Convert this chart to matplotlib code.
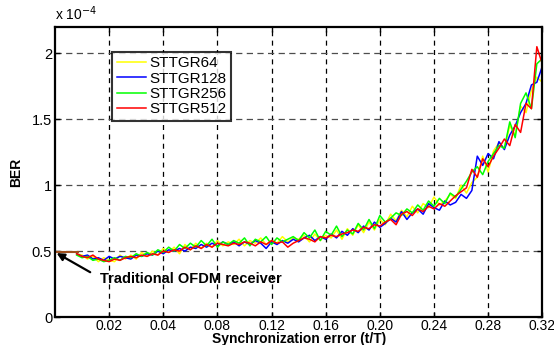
import numpy as np
import matplotlib
matplotlib.use("Agg")
import matplotlib.pyplot as plt

plt.rcParams["font.family"] = ["Liberation Sans", "DejaVu Sans"]

# x positions on the drawn axis (9 equal grid intervals of 0.04)
x_start, x_step, n_pts = 0.016, 0.004, 87
tick_pos = [0.04, 0.08, 0.12, 0.16, 0.20, 0.24, 0.28, 0.32, 0.36]
tick_labels = ["0.02", "0.04", "0.08", "0.12", "0.16", "0.20", "0.24", "0.28", "0.32"]

# BER values, units of 1e-4
ber_64 = [0.48, 0.47, 0.44, 0.46, 0.42, 0.45, 0.43, 0.42, 0.47, 0.44,
          0.47, 0.44, 0.49, 0.46, 0.50, 0.47, 0.52, 0.49, 0.53, 0.48,
          0.55, 0.51, 0.56, 0.52, 0.56, 0.53, 0.58, 0.54, 0.57, 0.55,
          0.59, 0.54, 0.58, 0.56, 0.60, 0.55, 0.58, 0.56, 0.61, 0.57,
          0.60, 0.59, 0.62, 0.57, 0.63, 0.58, 0.62, 0.60, 0.66, 0.59,
          0.67, 0.62, 0.70, 0.64, 0.72, 0.66, 0.74, 0.70, 0.78, 0.73,
          0.81, 0.76, 0.84, 0.79, 0.86, 0.83, 0.91, 0.85, 0.88, 0.93,
          0.90, 1.00, 0.94, 1.02, 1.06, 1.22, 1.10, 1.26, 1.32, 1.28,
          1.45, 1.38, 1.60, 1.55, 1.72, 1.82, 1.78]
ber_128 = [0.48, 0.46, 0.47, 0.44, 0.45, 0.43, 0.46, 0.44, 0.46, 0.45,
           0.44, 0.47, 0.46, 0.48, 0.47, 0.50, 0.48, 0.51, 0.50, 0.52,
           0.50, 0.53, 0.52, 0.55, 0.53, 0.56, 0.54, 0.57, 0.55, 0.57,
           0.54, 0.57, 0.55, 0.58, 0.56, 0.52, 0.57, 0.55, 0.58, 0.56,
           0.59, 0.57, 0.60, 0.62, 0.58, 0.61, 0.59, 0.63, 0.60, 0.65,
           0.62, 0.67, 0.64, 0.69, 0.66, 0.72, 0.68, 0.71, 0.75, 0.72,
           0.80, 0.74, 0.79, 0.82, 0.78, 0.86, 0.83, 0.81, 0.88, 0.85,
           0.87, 0.93, 0.90, 0.96, 1.22, 1.15, 1.24, 1.20, 1.33, 1.27,
           1.38, 1.45, 1.55, 1.62, 1.76, 1.78, 1.90]
ber_256 = [0.47, 0.45, 0.46, 0.43, 0.44, 0.42, 0.43, 0.45, 0.43, 0.46,
           0.45, 0.48, 0.46, 0.49, 0.47, 0.51, 0.49, 0.53, 0.50, 0.55,
           0.52, 0.56, 0.53, 0.58, 0.54, 0.59, 0.53, 0.57, 0.55, 0.58,
           0.56, 0.60, 0.54, 0.59, 0.57, 0.61, 0.55, 0.60, 0.57, 0.59,
           0.61, 0.58, 0.64, 0.60, 0.66, 0.58, 0.65, 0.62, 0.69, 0.61,
           0.66, 0.63, 0.71, 0.66, 0.74, 0.67, 0.77, 0.72, 0.75, 0.79,
           0.77, 0.82, 0.79, 0.85, 0.81, 0.88, 0.84, 0.90, 0.86, 0.94,
           0.91, 0.97, 1.03, 1.10, 1.14, 1.08, 1.18, 1.24, 1.30, 1.28,
           1.48, 1.36, 1.62, 1.70, 1.58, 1.92, 1.96]
ber_512 = [0.48, 0.46, 0.45, 0.47, 0.44, 0.43, 0.42, 0.44, 0.43, 0.45,
           0.46, 0.45, 0.47, 0.46, 0.48, 0.47, 0.50, 0.49, 0.51, 0.50,
           0.53, 0.51, 0.54, 0.52, 0.55, 0.53, 0.56, 0.55, 0.54, 0.56,
           0.55, 0.57, 0.56, 0.54, 0.57, 0.55, 0.58, 0.56, 0.57, 0.53,
           0.56, 0.58, 0.60, 0.59, 0.57, 0.61, 0.60, 0.62, 0.61, 0.63,
           0.64, 0.66, 0.65, 0.68, 0.67, 0.70, 0.69, 0.72, 0.74, 0.70,
           0.78, 0.80, 0.77, 0.82, 0.80, 0.84, 0.82, 0.86, 0.84, 0.88,
           0.92, 0.95, 0.98, 1.12, 1.06, 1.20, 1.14, 1.22, 1.28, 1.35,
           1.30, 1.46, 1.40, 1.62, 1.58, 2.05, 1.92]

series = [("STTGR64", ber_64, "#ffff00"),
          ("STTGR128", ber_128, "#0000ff"),
          ("STTGR256", ber_256, "#00ff00"),
          ("STTGR512", ber_512, "#ff0000")]

# conventional receiver reference level
ofdm_x = [0.0, 0.017]
ofdm_ber = [0.49, 0.49]

x = x_start + x_step * np.arange(n_pts)

fig = plt.figure(figsize=(5.54, 3.45), dpi=100)
ax = fig.add_axes([0.0993, 0.081, 0.8795, 0.841])

for label, vals, color in series:
    ax.plot(x, vals, color=color, lw=1.1, label=label)
ax.plot(ofdm_x, ofdm_ber, color="#a0501e", lw=1.5)

ax.set_xlim(0, 0.36)
ax.set_ylim(0, 2.2)
ax.set_xticks(tick_pos)
ax.set_xticklabels(tick_labels)
ax.set_yticks([0, 0.5, 1, 1.5, 2])
ax.set_yticklabels(["0", "0.5", "1", "1.5", "2"])
ax.tick_params(direction="in", top=True, right=True, length=3.5, width=1,
               labelsize=10.5, pad=2)
ax.tick_params(axis="x", labelsize=10, pad=1.5)

ax.xaxis.grid(True, color="black", ls=(0, (4, 3.5)), lw=0.9)
ax.yaxis.grid(True, color="0.3", ls=(0, (5, 3.5)), lw=0.9)
for sp in ax.spines.values():
    sp.set_linewidth(1.6)

ax.set_xlabel("Synchronization error (t/T)", fontsize=10, fontweight="bold", labelpad=-1)
ax.set_ylabel("BER", fontsize=10, fontweight="bold", labelpad=6)
ax.text(0.0, 1.015, r"x 10$^{-4}$", transform=ax.transAxes, fontsize=10,
        ha="left", va="bottom")

ax.annotate("", xy=(0.0012, 0.485), xytext=(0.026, 0.34),
            arrowprops=dict(arrowstyle="-|>", color="black", lw=1.6,
                            shrinkA=0, shrinkB=0, mutation_scale=11))
ax.text(0.0330, 0.29, "Traditional OFDM receiver", fontsize=10.5,
        fontweight="bold", ha="left", va="center")

leg = ax.legend(loc="upper left", bbox_to_anchor=(0.117, 0.914), fontsize=11,
                frameon=True, fancybox=False, handlelength=1.9, handletextpad=0.25,
                labelspacing=0.08, borderpad=0.3, borderaxespad=0)
leg.get_frame().set_edgecolor("black")
leg.get_frame().set_linewidth(1.5)

fig.savefig("out.png", dpi=100)
